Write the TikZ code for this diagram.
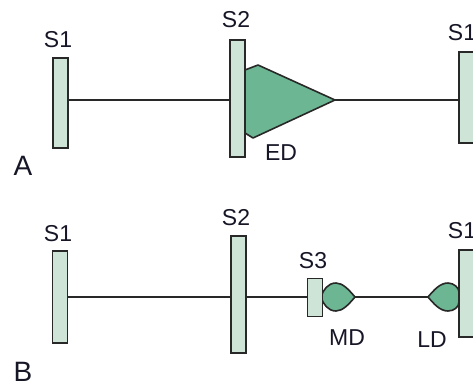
\documentclass[tikz,border=0pt]{standalone}
\usepackage{fontspec}
\setmainfont{Liberation Sans}
\definecolor{barfill}{RGB}{205,228,215}
\definecolor{domfill}{RGB}{108,182,147}
\definecolor{edge}{RGB}{40,40,40}
\definecolor{ink}{RGB}{22,22,38}
\tikzset{
  bar/.style={draw=edge, line width=1.6pt, fill=barfill, minimum width=15pt, inner sep=0pt},
  dom/.style={draw=edge, line width=1.6pt, fill=domfill, line join=round},
  conn/.style={draw=edge, line width=1.6pt},
  lbl/.style={text=ink, font=\fontsize{23}{23}\selectfont, inner sep=0pt},
  panel/.style={text=ink, font=\fontsize{28}{28}\selectfont, inner sep=0pt},
}
\begin{document}
\begin{tikzpicture}[x=1pt, y=-1pt]
        \useasboundingbox (0,0) rectangle (473,387);
        \coordinate (edtip) at (335,100);
        \coordinate (mdtip) at (355,297);
        \coordinate (ldtip) at (428,297);

        % Domains
        \draw[dom] (245,70) -- (258,65) -- (edtip) -- (253,138) -- (245,133) -- cycle;
        \draw[dom] (mdtip) .. controls (349,290) and (343,283) .. (336,283)
            .. controls (328,283) and (323,290) .. (321,297)
            .. controls (323,304) and (328,311) .. (336,311)
            .. controls (343,311) and (349,304) .. (mdtip) -- cycle;
        \draw[dom] (ldtip) .. controls (434,290) and (440,283) .. (448,283)
            .. controls (454,283) and (459,288) .. (459,292) -- (459,302)
            .. controls (459,307) and (454,311) .. (448,311)
            .. controls (440,311) and (434,304) .. (ldtip) -- cycle;

        % Segments
        \foreach \n/\x/\y/\h in {s1a/60.5/103/90, s2a/237.5/98.5/117, s1ar/466.5/97.5/91,
            s1b/60/297/92, s2b/238.5/294.5/117, s3/315/297.5/38, s1br/466.5/293.5/87}
            \node[bar, minimum height=\h] (\n) at (\x,\y) {};

        % Edges
        \draw[conn] (s1a.east |- edtip) -- (s2a.west |- edtip);
        \draw[conn] (edtip) -- (s1ar.west |- edtip);
        \draw[conn] (s1b.east |- mdtip) -- (s2b.west |- mdtip);
        \draw[conn] (s2b.east |- mdtip) -- (s3.west |- mdtip);
        \draw[conn] (mdtip) -- (ldtip);

        % Labels
        \foreach \n/\x/\y/\txt in {l1a/58/40/S1, l2a/236/20/S2, l1ar/462/33/S1, led/281/153/ED,
            l1b/58/234/S1, l2b/236/218/S2, l3/313/261/S3, lmd/347/338/MD, lld/432/340/LD, l1br/462/231/S1}
            \node[lbl] (\n) at (\x,\y) {\txt};
        \node[panel] (pa) at (23,166) {A};
        \node[panel] (pb) at (23,372) {B};
    \end{tikzpicture}
\end{document}
